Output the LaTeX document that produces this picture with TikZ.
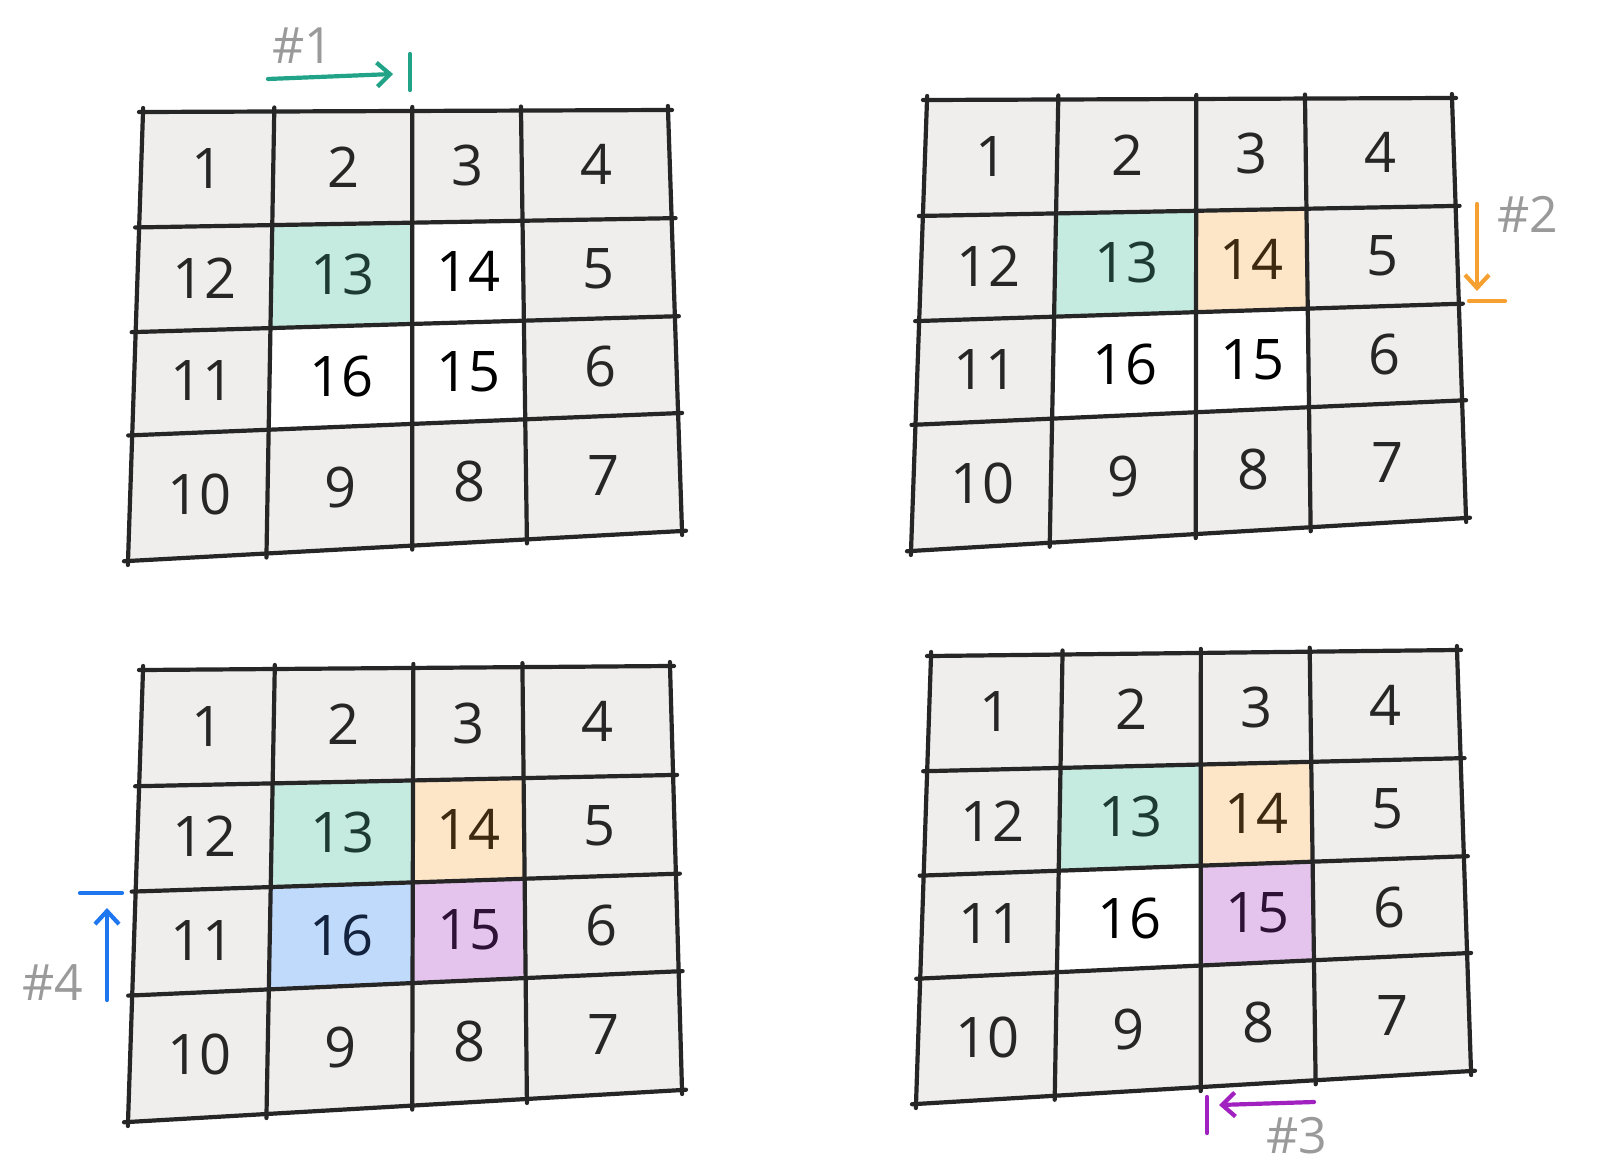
\documentclass[tikz,border=0pt]{standalone}
\usepackage{fontspec}
\setmainfont{Open Sans}
\usetikzlibrary{calc,arrows.meta}
\definecolor{ink}{HTML}{262626}
\definecolor{cellg}{HTML}{EFEEEC}
\definecolor{tealf}{HTML}{C5EAE0}
\definecolor{orangef}{HTML}{FDE5C8}
\definecolor{purplef}{HTML}{E4C4EC}
\definecolor{bluef}{HTML}{C0DAFC}
\definecolor{tealc}{HTML}{20A386}
\definecolor{orangec}{HTML}{F5A030}
\definecolor{purplec}{HTML}{A020C0}
\definecolor{bluec}{HTML}{1F77F0}
\definecolor{labelg}{HTML}{9A9A9A}
\definecolor{tealt}{HTML}{1D3B32}
\definecolor{oranget}{HTML}{3D2A10}
\definecolor{purplet}{HTML}{2E1236}
\definecolor{bluet}{HTML}{14233D}
\newcommand\gridcoords[5]{%
  \foreach \i/\u in {0/0,1/0.25,2/0.513,3/0.72,4/1}{%
    \foreach \j/\v in {0/0,1/0.257,2/0.49,3/0.72,4/1}{%
      \coordinate (#1-\i-\j) at ($ ($#2!\u!#3$)!\v!($#5!\u!#4$) $);
    }}}
\newcommand\gridbase[1]{%
  \fill[cellg] (#1-0-0) -- (#1-4-0) -- (#1-4-4) -- (#1-0-4) -- cycle;}
\newcommand\cellfill[4]{%
  \pgfmathtruncatemacro\ci{#2+1}\pgfmathtruncatemacro\cj{#3+1}%
  \fill[#4] (#1-#2-#3) -- (#1-\ci-#3) -- (#1-\ci-\cj) -- (#1-#2-\cj) -- cycle;}
\newcommand\gridlines[1]{%
  \foreach \k in {0,...,4}{%
    \draw[gridline] (#1-\k-0) -- (#1-\k-4);
    \draw[gridline] (#1-0-\k) -- (#1-4-\k);}}
\newcommand\cellnum[5]{% grid, i, j, text, color
  \pgfmathtruncatemacro\ci{#2+1}\pgfmathtruncatemacro\cj{#3+1}%
  \node[num,text=#5] (#1-n#4) at ($(#1-#2-#3)!0.5!(#1-\ci-\cj)$) {#4};}
\newcommand\outernums[1]{%
  \foreach \i/\j/\n in {0/0/1,1/0/2,2/0/3,3/0/4,3/1/5,3/2/6,3/3/7,2/3/8,1/3/9,0/3/10,0/2/11,0/1/12}{%
    \cellnum{#1}{\i}{\j}{\n}{ink}}}
\tikzset{
  gridline/.style={draw=ink,line width=4.2pt,line cap=round,shorten <=-4pt,shorten >=-4pt},
  num/.style={font=\fontsize{56}{56}\selectfont,inner sep=0pt},
  lab/.style={font=\fontsize{50}{50}\selectfont,text=labelg,inner sep=0pt},
  marker/.style={line width=4.2pt,line cap=round,-{Straight Barb[length=13pt,width=24pt,line width=4.2pt]}},
  bar/.style={line width=4.2pt,line cap=round},
}
\begin{document}
\begin{tikzpicture}[x=1pt,y=-1pt]
\useasboundingbox (0,0) rectangle (1600,1174);
\fill[white] (0,0) rectangle (1600,1174);
% ---------- grid 1
\gridcoords{ga}{(143,112)}{(668,110)}{(682,531)}{(128,561)}
\gridbase{ga}
\cellfill{ga}{1}{1}{tealf}
\cellfill{ga}{2}{1}{white}
\cellfill{ga}{1}{2}{white}
\cellfill{ga}{2}{2}{white}
\gridlines{ga}
\outernums{ga}
\cellnum{ga}{1}{1}{13}{tealt}
\cellnum{ga}{2}{1}{14}{black}
\cellnum{ga}{1}{2}{16}{black}
\cellnum{ga}{2}{2}{15}{black}
% ---------- grid 2
\gridcoords{gb}{(927,100)}{(1452,98)}{(1466,518)}{(911,551)}
\gridbase{gb}
\cellfill{gb}{1}{1}{tealf}
\cellfill{gb}{2}{1}{orangef}
\cellfill{gb}{1}{2}{white}
\cellfill{gb}{2}{2}{white}
\gridlines{gb}
\outernums{gb}
\cellnum{gb}{1}{1}{13}{tealt}
\cellnum{gb}{2}{1}{14}{oranget}
\cellnum{gb}{1}{2}{16}{black}
\cellnum{gb}{2}{2}{15}{black}
% ---------- grid 3
\gridcoords{gc}{(143,670)}{(670,666)}{(682,1090)}{(128,1122)}
\gridbase{gc}
\cellfill{gc}{1}{1}{tealf}
\cellfill{gc}{2}{1}{orangef}
\cellfill{gc}{1}{2}{bluef}
\cellfill{gc}{2}{2}{purplef}
\gridlines{gc}
\outernums{gc}
\cellnum{gc}{1}{1}{13}{tealt}
\cellnum{gc}{2}{1}{14}{oranget}
\cellnum{gc}{1}{2}{16}{bluet}
\cellnum{gc}{2}{2}{15}{purplet}
% ---------- grid 4
\gridcoords{gd}{(931,656)}{(1457,650)}{(1471,1071)}{(916,1104)}
\gridbase{gd}
\cellfill{gd}{1}{1}{tealf}
\cellfill{gd}{2}{1}{orangef}
\cellfill{gd}{1}{2}{white}
\cellfill{gd}{2}{2}{purplef}
\gridlines{gd}
\outernums{gd}
\cellnum{gd}{1}{1}{13}{tealt}
\cellnum{gd}{2}{1}{14}{oranget}
\cellnum{gd}{1}{2}{16}{black}
\cellnum{gd}{2}{2}{15}{purplet}
% ---------- step markers
\node[lab] (l1) at (303,46) {\#1};
\coordinate (a1s) at (268,79); \coordinate (a1e) at (393,74);
\coordinate (b1s) at (410,54); \coordinate (b1e) at (410,90);
\draw[marker,tealc] (a1s) -- (a1e);
\draw[bar,tealc] (b1s) -- (b1e);

\node[lab] (l2) at (1528,214) {\#2};
\coordinate (a2s) at (1477,204); \coordinate (a2e) at (1477,291);
\coordinate (b2s) at (1469,301); \coordinate (b2e) at (1505,301);
\draw[marker,orangec] (a2s) -- (a2e);
\draw[bar,orangec] (b2s) -- (b2e);

\node[lab] (l3) at (1297,1136) {\#3};
\coordinate (a3s) at (1314,1102); \coordinate (a3e) at (1219,1105);
\coordinate (b3s) at (1207,1097); \coordinate (b3e) at (1207,1133);
\draw[marker,purplec] (a3s) -- (a3e);
\draw[bar,purplec] (b3s) -- (b3e);

\node[lab] (l4) at (53,983) {\#4};
\coordinate (a4s) at (107,1000); \coordinate (a4e) at (107,908);
\coordinate (b4s) at (80,893); \coordinate (b4e) at (122,893);
\draw[marker,bluec] (a4s) -- (a4e);
\draw[bar,bluec] (b4s) -- (b4e);
\end{tikzpicture}
\end{document}
